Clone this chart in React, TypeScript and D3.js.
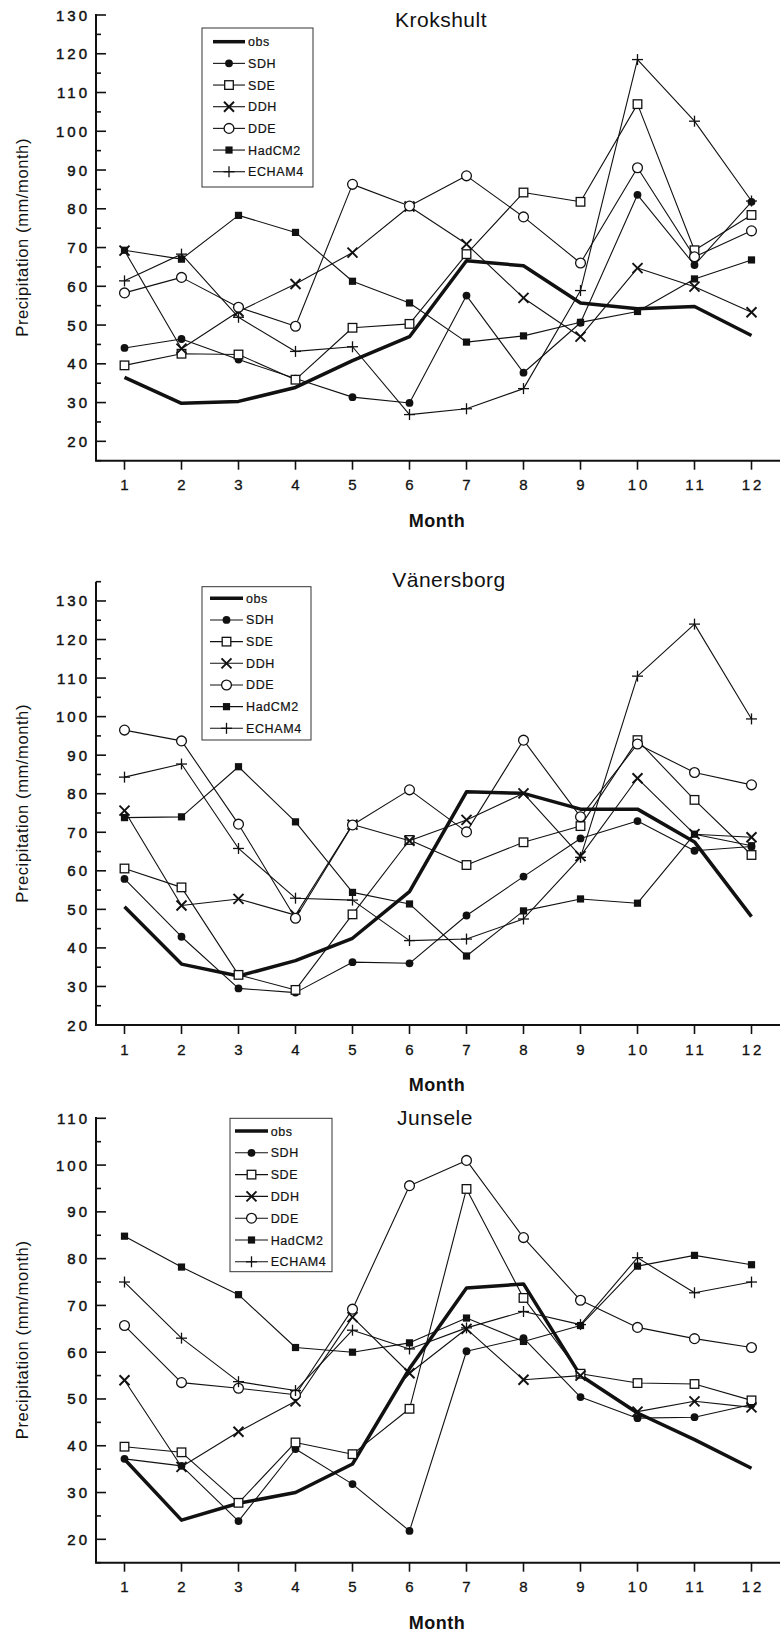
import React from 'react';
import * as d3 from 'd3';

const months = [1, 2, 3, 4, 5, 6, 7, 8, 9, 10, 11, 12];
const seriesNames = ['obs', 'SDH', 'SDE', 'DDH', 'DDE', 'HadCM2', 'ECHAM4'];
const seriesMarkers = ['none', 'circleFilled', 'squareOpen', 'cross', 'circleOpen', 'squareFilled', 'plus'];

// Krokshult
const krokObs = [36.5, 29.8, 30.3, 33.9, 40.8, 47.0, 66.6, 65.3, 55.7, 54.2, 54.8, 47.3];
const krokSDH = [44.1, 46.4, 41.1, 36.2, 31.4, 29.9, 57.6, 37.7, 50.6, 83.6, 65.5, 81.8];
const krokSDE = [39.6, 42.6, 42.4, 35.9, 49.3, 50.3, 68.3, 84.2, 81.8, 107.0, 69.3, 78.4];
const krokDDH = [69.2, 43.9, 53.5, 60.6, 68.7, 80.6, 70.9, 57.0, 47.0, 64.7, 59.9, 53.3];
const krokDDE = [58.3, 62.3, 54.6, 49.7, 86.3, 80.7, 88.5, 77.9, 66.0, 90.6, 67.6, 74.3];
const krokHad = [69.3, 67.0, 78.3, 73.9, 61.3, 55.7, 45.6, 47.2, 50.7, 53.5, 61.9, 66.8];
const krokECH = [61.4, 68.3, 52.0, 43.2, 44.4, 26.9, 28.4, 33.6, 58.9, 118.5, 102.6, 82.0];

// Vänersborg
const vanObs = [50.7, 35.8, 32.7, 36.7, 42.5, 54.6, 80.5, 80.1, 76.0, 76.0, 67.5, 48.1];
const vanSDH = [57.9, 42.9, 29.5, 28.4, 36.3, 36.0, 48.4, 58.5, 68.4, 72.9, 65.2, 66.3];
const vanSDE = [60.6, 55.7, 33.0, 29.1, 48.7, 68.0, 61.5, 67.4, 71.6, 93.9, 78.4, 64.1];
const vanDDH = [75.6, 51.0, 52.7, 48.5, 72.0, 67.8, 73.2, 80.1, 63.8, 84.0, 69.5, 68.7];
const vanDDE = [96.5, 93.7, 72.1, 47.7, 71.9, 81.0, 70.1, 93.9, 74.0, 92.9, 85.5, 82.3];
const vanHad = [73.8, 74.0, 87.0, 72.7, 54.4, 51.4, 37.9, 49.6, 52.7, 51.6, 69.5, 66.5];
const vanECH = [84.3, 87.7, 65.8, 52.9, 52.4, 41.9, 42.3, 47.5, 63.5, 110.5, 124.0, 99.4];

// Junsele
const junObs = [37.1, 24.1, 27.7, 30.0, 36.1, 56.5, 73.7, 74.6, 55.0, 47.0, 41.3, 35.2];
const junSDH = [37.2, 35.7, 23.9, 39.3, 31.8, 21.8, 60.2, 63.0, 50.4, 45.9, 46.1, 48.8];
const junSDE = [39.8, 38.6, 27.8, 40.7, 38.2, 47.9, 94.9, 71.6, 55.4, 53.4, 53.2, 49.7];
const junDDH = [54.0, 35.5, 43.0, 49.5, 67.5, 55.5, 65.0, 54.1, 55.0, 47.3, 49.5, 48.2];
const junDDE = [65.7, 53.5, 52.3, 50.9, 69.2, 95.6, 101.0, 84.5, 71.1, 65.3, 62.9, 61.0];
const junHad = [84.8, 78.2, 72.3, 61.0, 60.0, 62.0, 67.3, 62.3, 65.7, 78.4, 80.7, 78.7];
const junECH = [75.0, 63.0, 53.7, 51.8, 64.7, 60.7, 65.2, 68.7, 65.9, 80.2, 72.7, 75.0];

const yTicks1 = [20, 30, 40, 50, 60, 70, 80, 90, 100, 110, 120, 130];
const yTicks2 = [20, 30, 40, 50, 60, 70, 80, 90, 100, 110, 120, 130];
const yTicks3 = [20, 30, 40, 50, 60, 70, 80, 90, 100, 110];

const FONT = '"Liberation Sans", Arial, Helvetica, sans-serif';

const panels = [
  {
    title: 'Krokshult', titleX: 441, titleY: 27,
    domain: [15, 130], range: [460.7, 15], axisTop: 14, ticks: yTicks1,
    data: [krokObs, krokSDH, krokSDE, krokDDH, krokDDE, krokHad, krokECH],
    legend: { x0: 202, x1: 313, y0: 28, y1: 187, row0: 41.7, step: 21.67, lx0: 213, lx1: 245, tx: 248 },
  },
  {
    title: 'Vänersborg', titleX: 449, titleY: 587,
    domain: [20, 135], range: [1025, 581.7], axisTop: 581.7, ticks: yTicks2,
    data: [vanObs, vanSDH, vanSDE, vanDDH, vanDDE, vanHad, vanECH],
    legend: { x0: 202, x1: 311, y0: 586.7, y1: 740, row0: 598.3, step: 21.67, lx0: 210, lx1: 243, tx: 246 },
  },
  {
    title: 'Junsele', titleX: 435, titleY: 1125,
    domain: [15, 110], range: [1562.7, 1118.3], axisTop: 1117, ticks: yTicks3,
    data: [junObs, junSDH, junSDE, junDDH, junDDE, junHad, junECH],
    legend: { x0: 230, x1: 332, y0: 1118.3, y1: 1271.7, row0: 1131, step: 21.8, lx0: 235, lx1: 268, tx: 270.7 },
  },
];

const x = d3.scaleLinear().domain([0.5, 12.5]).range([96, 780]);

function Marker({ type, cx, cy }: { type: string; cx: number; cy: number }) {
  switch (type) {
    case 'circleFilled':
      return <circle cx={cx} cy={cy} r={3.9} fill="#111" />;
    case 'squareOpen':
      return <rect x={cx - 4.3} y={cy - 4.3} width={8.6} height={8.6} fill="#fff" stroke="#111" strokeWidth={1.3} />;
    case 'cross':
      return (
        <g stroke="#111" strokeWidth={1.9}>
          <line x1={cx - 5} y1={cy - 5} x2={cx + 5} y2={cy + 5} />
          <line x1={cx - 5} y1={cy + 5} x2={cx + 5} y2={cy - 5} />
        </g>
      );
    case 'circleOpen':
      return <circle cx={cx} cy={cy} r={4.9} fill="#fff" stroke="#111" strokeWidth={1.3} />;
    case 'squareFilled':
      return <rect x={cx - 3.6} y={cy - 3.6} width={7.2} height={7.2} fill="#111" />;
    case 'plus':
      return (
        <g stroke="#111" strokeWidth={1.3}>
          <line x1={cx - 5.5} y1={cy} x2={cx + 5.5} y2={cy} />
          <line x1={cx} y1={cy - 5.5} x2={cx} y2={cy + 5.5} />
        </g>
      );
    default:
      return null;
  }
}

function Panel({ p }: { p: any }) {
  const y = d3.scaleLinear().domain(p.domain).range(p.range);
  const yBottom = p.range[0];
  const line = d3.line<number>().x((_, i) => x(months[i])).y((d) => y(d));
  const minor: number[] = [];
  for (let v = p.domain[0]; v <= p.domain[1] + 0.01; v += 5) {
    if (v % 10 !== 0) minor.push(v);
  }
  const L = p.legend;
  const plotCenterY = (yBottom + p.axisTop) / 2;
  return (
    <g>
      <text x={p.titleX} y={p.titleY} textAnchor="middle" fontSize={21} fontFamily={FONT} fill="#111" letterSpacing={0.5}>
        {p.title}
      </text>
      <rect x={L.x0} y={L.y0} width={L.x1 - L.x0} height={L.y1 - L.y0} fill="#fff" stroke="#333" strokeWidth={1} />
      {seriesNames.map((name, i) => {
        const ry = L.row0 + i * L.step;
        const mid = (L.lx0 + L.lx1) / 2;
        return (
          <g key={name}>
            <line x1={L.lx0} y1={ry} x2={L.lx1} y2={ry} stroke="#111" strokeWidth={i === 0 ? 3.5 : 1.1} />
            <Marker type={seriesMarkers[i]} cx={mid} cy={ry} />
            <text x={L.tx} y={ry + 4.5} fontSize={12.5} fontFamily={FONT} fill="#111" stroke="#111" strokeWidth={0.2} letterSpacing={0.6}>
              {name}
            </text>
          </g>
        );
      })}
      {p.data.map((vals: number[], si: number) => (
        <g key={si}>
          <path d={line(vals) || ''} fill="none" stroke="#111" strokeWidth={si === 0 ? 3.5 : 1.1} strokeLinejoin="round" />
          {vals.map((v, i) => (
            <Marker key={i} type={seriesMarkers[si]} cx={x(months[i])} cy={y(v)} />
          ))}
        </g>
      ))}
      <line x1={96} y1={p.axisTop} x2={96} y2={yBottom} stroke="#111" strokeWidth={2} />
      <line x1={95} y1={yBottom} x2={780} y2={yBottom} stroke="#111" strokeWidth={2} />
      {p.ticks.map((t: number) => (
        <g key={t}>
          <line x1={96} y1={y(t)} x2={106} y2={y(t)} stroke="#111" strokeWidth={1.6} />
          <text x={90} y={y(t) + 5.5} textAnchor="end" fontSize={15} fontFamily={FONT} fill="#111" stroke="#111" strokeWidth={0.45} letterSpacing={3}>
            {t}
          </text>
        </g>
      ))}
      {minor.map((t) => (
        <line key={t} x1={96} y1={y(t)} x2={101} y2={y(t)} stroke="#111" strokeWidth={1.6} />
      ))}
      {months.map((m) => (
        <g key={m}>
          <line x1={x(m)} y1={yBottom} x2={x(m)} y2={yBottom + 9} stroke="#111" strokeWidth={1.6} />
          <text x={x(m) + 1.5} y={yBottom + 29.5} textAnchor="middle" fontSize={15} fontFamily={FONT} fill="#111" stroke="#111" strokeWidth={0.3} letterSpacing={3}>
            {m}
          </text>
        </g>
      ))}
      <text x={437} y={yBottom + 66} textAnchor="middle" fontSize={18} fontWeight="bold" fontFamily={FONT} fill="#111" letterSpacing={0.5}>
        Month
      </text>
      <text
        transform={`translate(28,${plotCenterY}) rotate(-90)`}
        textAnchor="middle"
        fontSize={16.5}
        fontFamily={FONT}
        fill="#111"
        letterSpacing={0.6}
      >
        Precipitation (mm/month)
      </text>
    </g>
  );
}

export default function App() {
  return (
    <svg
      width={781}
      height={1633}
      viewBox="0 0 781 1633"
      style={{ position: 'absolute', left: 0, top: 0, display: 'block', background: '#fff' }}
    >
      <rect x={0} y={0} width={781} height={1633} fill="#fff" />
      {panels.map((p) => (
        <Panel key={p.title} p={p} />
      ))}
    </svg>
  );
}
